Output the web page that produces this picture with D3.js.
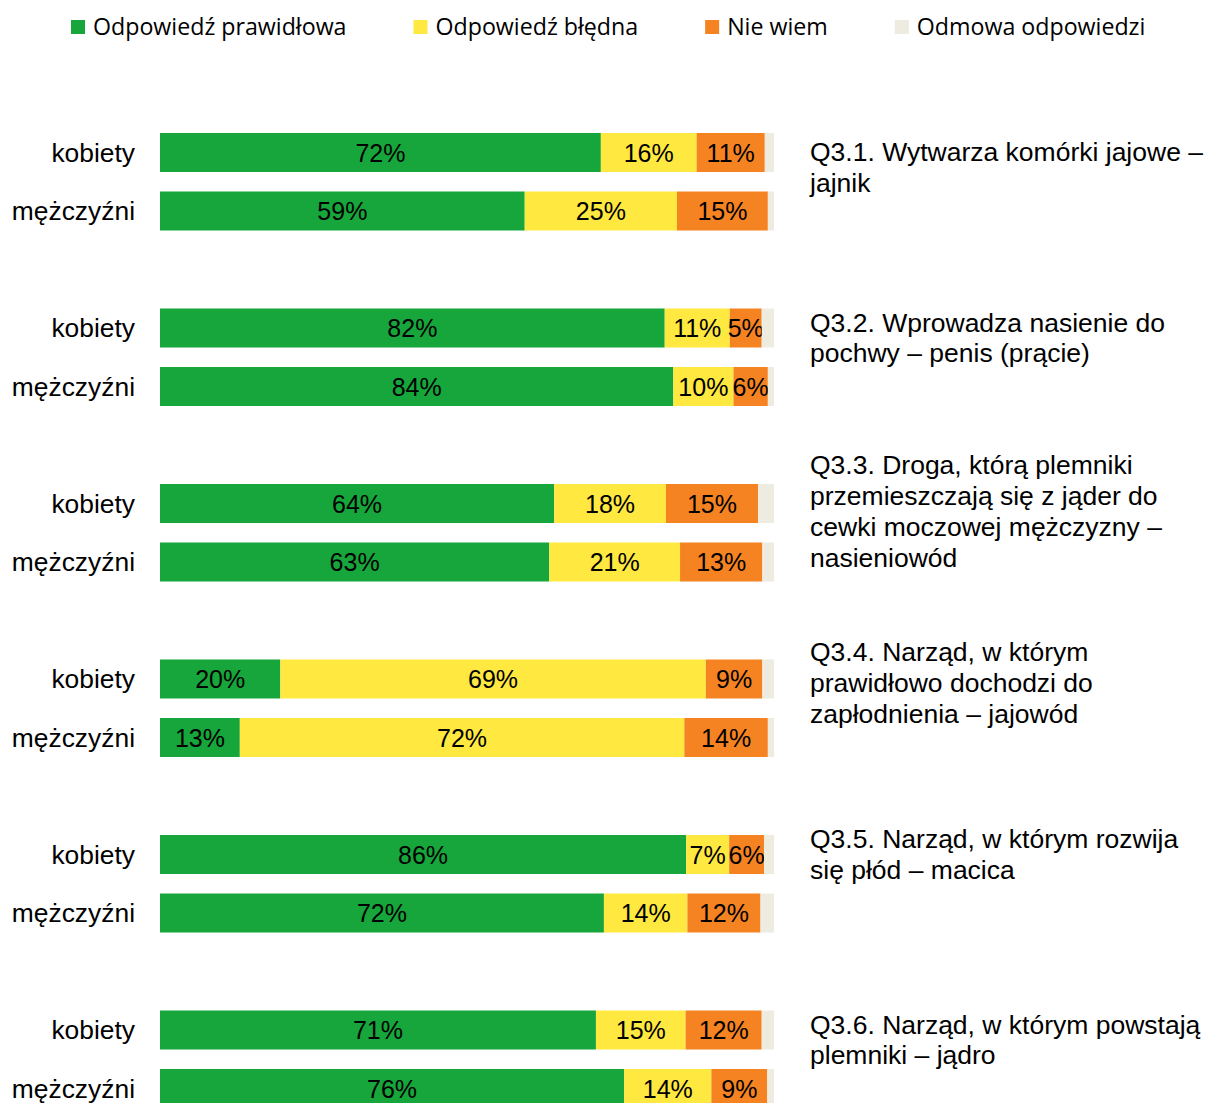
<!DOCTYPE html>
<html>
<head>
<meta charset="utf-8">
<script src="https://cdn.jsdelivr.net/npm/d3@7"></script>
<style>
body { margin: 0; background: #fff; }
svg { display: block; }
</style>
</head>
<body>
<script>
var width = 1208, height = 1103

// categories
var questions = ["Q3.1", "Q3.2", "Q3.3", "Q3.4", "Q3.5", "Q3.6"]
var questionText = [
    ["Q3.1. Wytwarza komórki jajowe –", "jajnik"],
    ["Q3.2. Wprowadza nasienie do", "pochwy – penis (prącie)"],
    ["Q3.3. Droga, którą plemniki", "przemieszczają się z jąder do", "cewki moczowej mężczyzny –", "nasieniowód"],
    ["Q3.4. Narząd, w którym", "prawidłowo dochodzi do", "zapłodnienia – jajowód"],
    ["Q3.5. Narząd, w którym rozwija", "się płód – macica"],
    ["Q3.6. Narząd, w którym powstają", "plemniki – jądro"]
]
var groups = ["kobiety", "mężczyźni"]
var seriesNames = ["Odpowiedź prawidłowa", "Odpowiedź błędna", "Nie wiem", "Odmowa odpowiedzi"]
var seriesColors = ["#16a63b", "#ffe83f", "#f58322", "#eeebe0"]

// values per question, [kobiety, mężczyźni]
var correct = [[71.8, 59.4], [82.2, 83.6], [64.2, 63.4], [19.6, 13.0], [85.7, 72.3], [71.0, 75.6]]
var wrong   = [[15.6, 24.8], [10.6, 9.8],  [18.2, 21.3], [69.3, 72.4], [7.0, 13.6],  [14.6, 14.2]]
var dontKnow = [[11.1, 14.8], [5.2, 5.6],  [15.0, 13.4], [9.2, 13.6],  [5.7, 11.9],  [12.4, 9.1]]
var refused = [[1.5, 1.0],   [2.0, 1.0],  [2.6, 1.9],   [1.9, 1.0],   [1.6, 2.2],   [2.0, 1.1]]

var rows = []
questions.forEach(function (q, i) {
    groups.forEach(function (g, j) {
        rows.push({key: q + "_" + j, q: i, group: g,
                   vals: [correct[i][j], wrong[i][j], dontKnow[i][j], refused[i][j]]})
    })
})

// row slots incl. a blank spacer after every question
var slots = []
questions.forEach(function (q) { slots.push(q + "_0", q + "_1", q + "_s") })

var svg = d3.select("body").append("svg")
    .attr("width", width)
    .attr("height", height)

var x = d3.scaleLinear().domain([0, 100]).range([160, 774])
var y = d3.scaleBand().domain(slots)
    .range([133, 133 + 58.5 * (slots.length - 1 / 3)])
    .paddingInner(1 / 3).paddingOuter(0)

var fmt = function (v) { return Math.round(v) + "%" }
var font = "'Liberation Sans', Arial, sans-serif"

var bars = svg.selectAll("g.row")
    .data(rows)
    .enter()
    .append("g")
    .attr("class", "row")
    .attr("transform", function (d) { return "translate(0," + y(d.key) + ")" })

var segs = bars.selectAll("g.seg")
    .data(function (d) {
        var acc = 0
        return d.vals.map(function (v, k) {
            var s = {k: k, x0: acc, x1: acc + v, v: v}
            acc += v
            return s
        })
    })
    .enter()
    .append("g")
    .attr("class", "seg")

segs.append("rect")
    .attr("x", function (d) { return x(d.x0) })
    .attr("width", function (d) { return x(d.x1) - x(d.x0) })
    .attr("height", y.bandwidth())
    .attr("fill", function (d) { return seriesColors[d.k] })

segs.filter(function (d) { return d.k < 3 })
    .append("text")
    .attr("x", function (d) { return (x(d.x0) + x(d.x1)) / 2 })
    .attr("y", y.bandwidth() / 2 + 9)
    .attr("text-anchor", "middle")
    .style("font-family", font)
    .style("font-size", "25px")
    .style("fill", "#000")
    .text(function (d) { return fmt(d.v) })

bars.append("text")
    .attr("x", 135)
    .attr("y", y.bandwidth() / 2 + 9)
    .attr("text-anchor", "end")
    .style("font-family", font)
    .style("font-size", "26.4px")
    .style("fill", "#000")
    .text(function (d) { return d.group })

// question descriptions on the right
var lineH = 30.7
var textNudge = [7, 2, 0, -4, -8, 2]
svg.selectAll("text.q")
    .data(questionText)
    .enter()
    .append("text")
    .attr("class", "q")
    .style("font-family", font)
    .style("font-size", "26.5px")
    .style("fill", "#000")
    .each(function (lines, i) {
        var cy = y(questions[i] + "_0") + y.bandwidth() / 2 + 8 + textNudge[i]
        var top = cy - (lines.length - 1) * lineH / 2
        d3.select(this).selectAll("tspan")
            .data(lines)
            .enter()
            .append("tspan")
            .attr("x", 810)
            .attr("y", function (l, k) { return top + k * lineH + 9 })
            .text(function (l) { return l })
    })

// legend
var legend = svg.append("g")
var lx = 71
seriesNames.forEach(function (name, i) {
    var item = legend.append("g").attr("transform", "translate(" + lx + ",0)")
    item.append("rect")
        .attr("x", 0).attr("y", 20)
        .attr("width", 14).attr("height", 14)
        .attr("fill", seriesColors[i])
    var t = item.append("text")
        .attr("x", 22).attr("y", 35)
        .style("font-family", "'Open Sans', 'Noto Sans', sans-serif")
        .style("font-size", "23.2px")
        .style("fill", "#000")
        .text(name)
    lx += 22 + t.node().getComputedTextLength() + 67
})
</script>
</body>
</html>
